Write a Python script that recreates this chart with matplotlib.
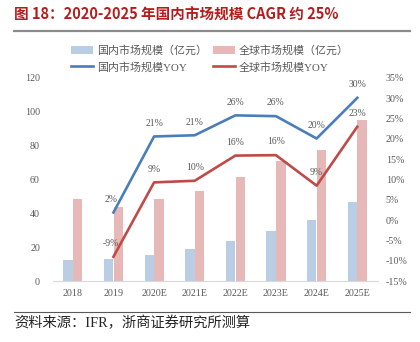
import numpy as np
import matplotlib
matplotlib.use('Agg')
import matplotlib.pyplot as plt
from matplotlib.lines import Line2D

years = ['2018', '2019', '2020E', '2021E', '2022E', '2023E', '2024E', '2025E']
domestic = [12.4, 12.8, 15.6, 18.7, 23.7, 29.8, 35.9, 46.7]
global_size = [48.3, 44.0, 48.3, 53.0, 61.3, 71.2, 77.5, 95.3]
domestic_yoy = [None, 2, 21, 21, 26, 26, 20, 30]
global_yoy = [None, -9, 9, 10, 16, 16, 9, 23]
domestic_yoy_val = [None, 1.9, 20.6, 20.9, 25.8, 25.6, 20.1, 30.1]
global_yoy_val = [None, -9.0, 9.3, 9.7, 15.9, 16.0, 8.5, 23.0]

serif_cjk = ['Liberation Serif', 'Noto Sans CJK SC']
tick_color = '#595959'

fig = plt.figure(figsize=(4.2, 3.42), dpi=100)
ax = fig.add_axes([0.125, 0.178, 0.774, 0.594])
ax2 = ax.twinx()

x = np.arange(len(years))
w = 0.23
b1 = ax.bar(x - 0.12, domestic, w, color='#B9CDE5', label='国内市场规模（亿元）')
b2 = ax.bar(x + 0.12, global_size, w, color='#E6B9B8', label='全球市场规模（亿元）')

xl = x[1:]
dy = np.array(domestic_yoy_val[1:])
gy = np.array(global_yoy_val[1:])
l1, = ax2.plot(xl, dy, color='#4A7EBB', lw=1.9, label='国内市场规模YOY')
l2, = ax2.plot(xl, gy, color='#BE4B48', lw=1.9, label='全球市场规模YOY')

for i in range(1, len(years)):
    ax2.annotate('%d%%' % domestic_yoy[i], (x[i], domestic_yoy_val[i]),
                 xytext=(-2 if i == 1 else 0, 9.5), textcoords='offset points',
                 ha='center', va='center', fontsize=7, color=tick_color,
                 family='Liberation Serif')
    ax2.annotate('%d%%' % global_yoy[i], (x[i], global_yoy_val[i]),
                 xytext=(-2 if i == 1 else 0, 9.5), textcoords='offset points',
                 ha='center', va='center', fontsize=7, color=tick_color,
                 family='Liberation Serif')

ax.set_xlim(-0.5, len(years) - 0.5)
ax.set_ylim(0, 120)
ax.set_yticks(range(0, 121, 20))
ax2.set_ylim(-15, 35)
ax2.set_yticks(range(-15, 36, 5))
ax2.set_yticklabels(['%d%%' % v for v in range(-15, 36, 5)])
ax.set_xticks(x)
ax.set_xticklabels(years)

for a in (ax, ax2):
    for s in a.spines.values():
        s.set_visible(False)
    a.tick_params(length=0, labelsize=7.2, colors=tick_color)
    for t in a.get_xticklabels() + a.get_yticklabels():
        t.set_family('Liberation Serif')
ax.spines['bottom'].set_visible(True)
ax.spines['bottom'].set_color('#D9D9D9')
ax.tick_params(axis='x', pad=6)
ax.tick_params(axis='y', pad=9)
ax2.tick_params(axis='y', pad=6)

fig.legend(handles=[b1, l1, b2, l2], ncol=2, loc='center',
           bbox_to_anchor=(0.5, 0.828), frameon=False,
           prop={'family': serif_cjk, 'size': 7.9},
           handlelength=2.0, handletextpad=0.3, columnspacing=0.6,
           labelspacing=0.5, labelcolor=tick_color)

fig.text(0.033, 0.956, '图 18：2020-2025 年国内市场规模 CAGR 约 25%',
         fontsize=10.5, fontweight='bold', color='#B71C1C',
         family=['Noto Sans CJK SC', 'DejaVu Sans'], va='center')
fig.add_artist(Line2D([0.033, 0.975], [0.909, 0.909], color='#8C8C8C', lw=1.6))
fig.add_artist(Line2D([0.033, 0.975], [0.088, 0.088], color='#595959', lw=0.8))
fig.text(0.033, 0.056, '资料来源：IFR，浙商证券研究所测算', fontsize=10.3,
         color='#262626', family=serif_cjk, va='center')

fig.savefig('out.png', dpi=100)
